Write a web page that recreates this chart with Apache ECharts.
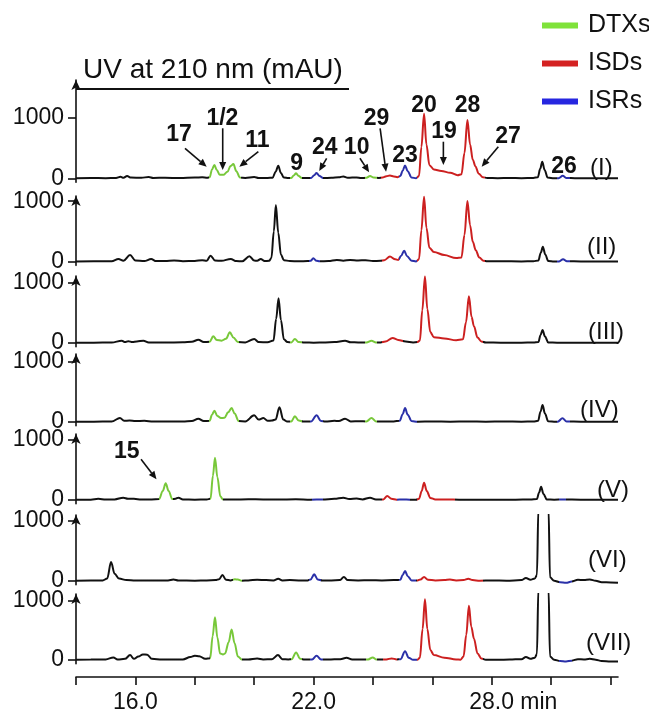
<!DOCTYPE html>
<html><head><meta charset="utf-8">
<script src="https://cdn.jsdelivr.net/npm/echarts@6/dist/echarts.min.js"></script>
<style>html,body{margin:0;padding:0;background:#fff}#c{width:649px;height:714px}</style>
</head><body><div id="c"></div>
<script>
// ---------------- data ----------------
const panelLabels = ['(I)','(II)','(III)','(IV)','(V)','(VI)','(VII)'];
const groupNames = ['DTXs','ISDs','ISRs'];
const yTickValues = [0, 1000];
const xTickValues = [14,16,18,20,22,24,26,28,30,32];
const xLabelValues = [16,22,28];
const timeMin = 14, timeMax = 32.25;

// retention time (min), UV absorbance (mAU)
const trace1 = [
[14.0,5],[14.5,8],[15.0,6],[15.35,10],[15.5,28],[15.6,12],[15.72,40],[15.85,15],[16.2,12],[16.45,25],[16.6,10],[17.0,12],[17.5,8],[18.0,15],[18.25,22],[18.42,12],
[18.5,20],[18.58,150],[18.66,225],[18.74,140],[18.84,60],[18.96,60],[19.1,110],[19.2,205],[19.3,238],[19.4,120],[19.52,15],
[19.7,10],[20.0,25],[20.15,8],[20.45,10],
[20.62,12],[20.72,110],[20.81,212],[20.9,90],[21.0,15],[21.15,8],
[21.25,10],[21.33,50],[21.41,85],[21.5,40],[21.6,8],[21.8,10],
[21.92,10],[22.02,55],[22.1,90],[22.2,40],[22.32,8],[22.6,12],[22.85,20],[23.0,35],[23.15,12],[23.45,18],[23.6,8],
[23.78,12],[23.9,42],[24.02,15],[24.2,10],
[24.32,15],[24.45,38],[24.57,48],[24.7,35],[24.82,22],
[24.92,40],[25.0,130],[25.08,215],[25.17,120],[25.3,15],[25.45,5],
[25.55,40],[25.63,520],[25.72,1070],[25.8,560],[25.9,220],[26.05,150],[26.3,125],[26.6,95],[26.85,55],
[26.98,70],[27.08,420],[27.18,965],[27.27,560],[27.36,310],[27.45,200],[27.56,80],[27.7,20],[27.85,8],
[28.2,5],[28.6,8],[29.0,6],[29.4,10],
[29.55,20],[29.63,160],[29.7,278],[29.78,140],[29.88,15],[30.1,5],
[30.25,5],[30.39,45],[30.52,8],[30.8,5],[31.5,5],[32.25,4]
];
const trace2 = [
[14.0,5],[14.6,8],[15.2,6],[15.43,45],[15.6,15],[15.82,110],[16.0,20],[16.3,10],[16.53,45],[16.7,10],[17.0,12],[17.3,20],[17.6,8],[18.0,12],[18.25,25],[18.4,15],[18.53,100],[18.68,20],[18.9,15],[19.21,45],[19.4,10],[19.6,8],[19.84,90],[20.0,20],[20.1,15],[20.22,45],[20.35,10],[20.5,15],
[20.58,60],[20.66,500],[20.73,937],[20.81,480],[20.9,120],[21.0,25],[21.2,10],[21.5,8],[21.8,10],
[21.9,15],[21.99,55],[22.1,15],[22.2,8],[22.5,10],[22.78,30],[23.0,15],[23.23,30],[23.5,20],[23.75,25],[24.0,10],[24.25,15],
[24.38,25],[24.57,85],[24.75,40],[24.85,30],
[24.95,100],[25.05,182],[25.15,90],[25.3,15],[25.45,5],
[25.55,40],[25.63,520],[25.72,1075],[25.8,560],[25.9,230],[26.05,160],[26.4,110],[26.8,60],
[26.98,70],[27.08,440],[27.18,1003],[27.27,600],[27.36,330],[27.46,190],[27.58,70],[27.72,15],[27.85,8],
[28.3,6],[29.0,5],[29.4,8],
[29.57,20],[29.65,150],[29.72,248],[29.8,120],[29.9,12],[30.1,5],
[30.27,5],[30.4,40],[30.53,6],[31.0,5],[32.25,4]
];
const trace3 = [
[14.0,5],[14.6,6],[15.2,8],[15.54,38],[15.65,15],[15.76,30],[15.9,15],[16.05,25],[16.27,38],[16.45,10],[17.0,8],[17.6,12],[17.9,20],[18.12,55],[18.3,15],
[18.5,20],[18.62,110],[18.74,50],[18.9,38],[19.05,70],[19.18,176],[19.3,90],[19.45,15],[19.7,10],[20.0,66],[20.15,15],[20.45,12],
[20.65,40],[20.74,400],[20.82,740],[20.9,380],[21.0,60],[21.12,15],
[21.25,10],[21.37,66],[21.5,15],[21.7,8],[22.0,5],[22.4,10],[22.7,15],[23.06,38],[23.25,12],[23.5,10],
[23.78,8],[23.95,38],[24.1,10],[24.25,10],
[24.42,25],[24.66,83],[24.85,50],[25.1,25],[25.35,10],[25.5,15],
[25.58,40],[25.66,540],[25.75,1100],[25.83,560],[25.93,180],[26.05,95],[26.4,75],[26.8,45],
[27.03,60],[27.13,340],[27.23,771],[27.32,430],[27.4,276],[27.52,90],[27.65,25],[27.8,8],
[28.3,5],[29.0,6],[29.4,8],
[29.57,15],[29.64,130],[29.71,215],[29.79,110],[29.9,10],[30.2,5],[31.0,5],[32.25,4]
];
const trace4 = [
[14.0,5],[14.6,6],[15.2,8],[15.48,66],[15.62,20],[15.8,25],[16.0,15],[16.3,20],[16.6,8],[17.2,10],[17.6,8],[17.9,15],[18.12,55],[18.3,15],
[18.5,20],[18.58,120],[18.66,187],[18.76,100],[18.88,66],[19.0,70],[19.12,160],[19.24,231],[19.34,140],[19.48,15],
[19.7,10],[20.0,110],[20.15,40],[20.31,66],[20.45,20],[20.6,25],
[20.72,40],[20.85,242],[20.98,40],[21.1,10],
[21.25,10],[21.37,94],[21.5,25],[21.65,8],
[21.92,10],[22.1,110],[22.25,15],[22.4,8],[22.7,20],[22.85,15],[23.06,55],[23.25,10],[23.55,12],
[23.78,10],[23.95,66],[24.1,10],[24.4,8],[24.7,10],
[24.9,20],[25.0,130],[25.08,231],[25.17,120],[25.3,15],[25.5,5],
[26.0,8],[26.6,5],[27.2,10],[27.8,5],[28.4,8],[29.0,5],[29.4,8],
[29.56,20],[29.64,170],[29.71,281],[29.79,140],[29.9,12],[30.15,5],
[30.22,5],[30.38,60],[30.52,8],[31.0,5],[32.25,4]
];
const trace5 = [
[14.0,5],[14.5,6],[14.75,20],[15.0,8],[15.3,10],[15.59,38],[15.75,20],[15.95,20],[16.2,8],[16.55,10],
[16.8,15],[16.92,150],[17.02,275],[17.12,150],[17.24,15],[17.35,20],[17.45,38],[17.6,8],[18.0,5],[18.4,8],
[18.53,20],[18.61,400],[18.68,700],[18.76,380],[18.86,60],[18.95,10],[19.3,8],[19.8,12],[20.3,10],[20.8,8],[21.4,12],[21.9,5],[22.3,8],[22.7,20],[23.0,38],[23.2,15],[23.45,25],[23.65,10],[23.9,38],[24.1,10],
[24.35,10],[24.48,66],[24.62,20],[24.8,5],
[25.0,8],[25.25,5],[25.45,5],
[25.55,20],[25.64,150],[25.72,287],[25.81,150],[25.93,35],[26.1,10],[26.5,8],[26.9,6],[27.5,5],[28.2,5],[28.8,6],[29.3,8],
[29.52,15],[29.59,120],[29.66,220],[29.74,100],[29.85,10],[30.1,5],[30.4,8],[31.0,5],[32.25,4]
];
const trace6 = [
[14.0,5],[14.5,8],[14.9,10],[15.05,40],[15.18,314],[15.3,120],[15.45,40],[15.7,15],[16.0,8],[16.6,8],[17.1,10],[17.28,25],[17.45,8],[18.0,5],[18.4,10],[18.7,15],
[18.82,30],[18.93,99],[19.05,20],[19.2,10],
[19.35,28],[19.45,25],[19.58,5],
[19.8,10],[20.1,20],[20.4,15],[20.65,10],[20.81,38],[20.95,10],[21.2,15],[21.5,10],[21.8,10],
[21.9,25],[22.02,110],[22.14,25],[22.3,8],[22.6,10],
[22.88,15],[23.02,66],[23.15,15],[23.5,10],[23.9,12],[24.3,10],[24.7,15],
[24.92,20],[25.0,100],[25.08,165],[25.17,80],[25.3,10],[25.5,10],
[25.6,25],[25.72,66],[25.85,20],[26.1,10],[26.4,15],[26.59,25],[26.8,10],[27.05,15],[27.21,38],[27.35,15],[27.6,5],[28.0,8],[28.5,5],[29.0,15],[29.15,50],[29.3,20],[29.45,40],
[29.52,100],[29.57,1200],[29.74,3200],[29.91,1200],[29.96,60],[30.1,5],
[30.3,-20],[30.5,-30],[30.69,-10],[30.9,20],[31.1,15],[31.3,25],[31.5,5],[31.7,-20],[32.0,-25],[32.25,-30]
];
const trace7 = [
[14.0,5],[14.5,8],[15.0,10],[15.26,44],[15.4,10],[15.65,20],[15.82,83],[15.95,20],[16.1,60],[16.25,94],[16.4,90],[16.55,20],[16.9,10],[17.3,8],[17.6,10],[17.85,50],[18.0,72],[18.15,65],[18.35,20],
[18.52,30],[18.6,400],[18.68,716],[18.76,380],[18.85,110],[18.95,94],[19.02,110],[19.14,300],[19.24,512],[19.34,280],[19.45,60],[19.58,10],
[19.8,8],[20.1,25],[20.3,10],[20.6,15],[20.8,83],[20.95,15],[21.15,10],
[21.26,15],[21.41,127],[21.55,20],[21.7,10],
[21.95,10],[22.1,72],[22.25,10],[22.5,8],[22.9,15],[23.11,39],[23.3,10],[23.6,8],
[23.84,10],[23.99,44],[24.12,8],[24.3,10],
[24.45,10],[24.63,28],[24.8,10],
[24.93,15],[25.08,149],[25.2,40],[25.35,5],[25.5,5],
[25.58,40],[25.67,520],[25.75,1020],[25.83,520],[25.93,170],[26.05,83],[26.4,40],[26.8,10],[26.95,5],
[27.05,60],[27.14,420],[27.23,909],[27.31,560],[27.4,358],[27.52,110],[27.65,25],[27.8,5],
[28.2,5],[28.6,8],[29.0,15],[29.15,50],[29.3,20],[29.45,40],
[29.52,100],[29.57,1200],[29.74,3200],[29.91,1200],[29.96,60],[30.1,5],
[30.3,-15],[30.5,-25],[30.69,-10],[30.9,15],[31.1,10],[31.3,20],[31.5,5],[31.7,-15],[32.0,-25],[32.25,-25]
];

// coloured stretches of each trace: [from min, to min, group]
const seg1 = [[18.48,19.55,'DTXs'],[21.22,21.62,'DTXs'],[21.88,22.33,'ISRs'],[23.73,24.12,'DTXs'],[24.28,24.86,'ISDs'],[24.86,25.47,'ISRs'],[25.47,27.78,'ISDs'],[30.18,30.63,'ISRs']];
const seg2 = [[21.85,22.2,'ISRs'],[24.3,24.86,'ISDs'],[24.86,25.47,'ISRs'],[25.47,27.77,'ISDs'],[30.2,30.63,'ISRs']];
const seg3 = [[18.48,19.48,'DTXs'],[21.22,21.62,'DTXs'],[23.73,24.12,'DTXs'],[24.3,25.0,'ISDs'],[25.47,27.72,'ISDs']];
const seg4 = [[18.48,19.5,'DTXs'],[21.22,21.62,'DTXs'],[21.88,22.33,'ISRs'],[23.73,24.12,'DTXs'],[24.86,25.47,'ISRs'],[30.2,30.63,'ISRs']];
const seg5 = [[16.78,17.26,'DTXs'],[18.5,18.95,'DTXs'],[21.93,22.33,'ISRs'],[24.3,24.82,'ISDs'],[24.82,25.25,'ISRs'],[25.47,26.76,'ISDs'],[30.28,30.5,'ISRs']];
const seg6 = [[19.28,19.6,'DTXs'],[21.85,22.25,'ISRs'],[24.86,25.45,'ISRs'],[25.47,27.71,'ISDs'],[30.26,30.69,'ISRs']];
const seg7 = [[18.5,19.6,'DTXs'],[21.24,21.62,'DTXs'],[21.88,22.33,'ISRs'],[23.76,24.14,'DTXs'],[24.35,24.82,'ISDs'],[24.86,25.47,'ISRs'],[25.47,27.71,'ISDs'],[30.26,30.69,'ISRs']];

// peak annotations (text, label position, arrow start, arrow end) in data units
const peakNotesI = [
 {text:'17', at:[17.47,719], from:[17.67,499], to:[18.40,195]},
 {text:'1/2', at:[18.93,983], from:[18.94,830], to:[18.94,140]},
 {text:'11', at:[20.11,620], from:[20.14,443], to:[19.50,195]},
 {text:'9', at:[21.43,240]},
 {text:'24', at:[22.38,512], from:[22.44,334], to:[22.19,124]},
 {text:'10', at:[23.45,512], from:[23.56,334], to:[23.87,102]},
 {text:'29', at:[24.12,983], from:[24.24,830], to:[24.44,112]},
 {text:'23', at:[25.08,372]},
 {text:'20', at:[25.72,1198]},
 {text:'19', at:[26.39,769], from:[26.37,608], to:[26.37,223]},
 {text:'28', at:[27.18,1198]},
 {text:'27', at:[28.55,686], from:[28.22,526], to:[27.66,195]},
 {text:'26', at:[30.43,190]}
];
const peakNotesV = [
 {text:'15', at:[15.71,793], from:[16.19,673], to:[16.71,342]}
];

// ---------------- layout & style ----------------
const FONT = "'Liberation Sans', Arial, Helvetica, sans-serif";
const INK = '#111';
const traceColors = {DTXs:'#78C83A', ISDs:'#CC2020', ISRs:'#2A30A8'};
const legendColors = {DTXs:'#7FE23A', ISDs:'#D42222', ISRs:'#2626E0'};
const zeroPx = [178.5, 261.7, 343, 422, 500, 581, 661];
const topPx  = [76, 192, 272, 350, 430, 511, 590];
const labelPos = [[590,168],[587,247],[588,332],[580,410],[597,490],[588,560],[586,643]];
const K = 0.0605;          // px per mAU
const YMIN = -60;
const xAxisPx = 678;
const plotLeft = 76, plotRight = 31;

const traces = [trace1,trace2,trace3,trace4,trace5,trace6,trace7];
const segs = [seg1,seg2,seg3,seg4,seg5,seg6,seg7];

const grids=[], xAxes=[], yAxes=[], series=[], visualMaps=[];
for (let i=0;i<7;i++){
  const top = topPx[i] + 4;
  const bottom = zeroPx[i] - YMIN*K;
  grids.push({left:plotLeft, right:plotRight, top:top, height:bottom-top});
  const ymax = (zeroPx[i]-top)/K;
  const last = (i===6);
  xAxes.push({
    type:'value', gridIndex:i, min:timeMin, max:timeMax, show:last, position:'bottom',
    offset: last ? (xAxisPx-bottom) : 0,
    axisLine:{show:true, onZero:false, lineStyle:{color:INK, width:1.6}},
    axisTick:{show:true, customValues:xTickValues, length:8, lineStyle:{color:INK, width:1.6}},
    axisLabel:{show:true, customValues:xLabelValues, margin:14, fontSize:23, fontFamily:FONT, color:INK,
      formatter: v => (v===28 ? '{m|28.0 min}' : v.toFixed(1)),
      rich:{m:{fontSize:23, fontFamily:FONT, color:INK, padding:[0,0,0,43]}}},
    splitLine:{show:false}
  });
  yAxes.push({
    type:'value', gridIndex:i, min:YMIN, max:ymax,
    axisLine:{show:true, onZero:false, symbol:['none','arrow'], symbolSize:[7,10], lineStyle:{color:INK, width:1.6}},
    axisTick:{show:true, customValues:yTickValues, length:8, lineStyle:{color:INK, width:1.6}},
    axisLabel:{show:true, customValues:yTickValues, margin:12, fontSize:23, fontFamily:FONT, color:INK,
      formatter: v => String(Math.round(v))},
    splitLine:{show:false}
  });
  series.push({
    type:'line', name:panelLabels[i], xAxisIndex:i, yAxisIndex:i, data:traces[i],
    showSymbol:false, symbol:'none', smooth:0.35, smoothMonotone:'x', clip:true, silent:true,
    lineStyle:{width:2}, color:INK
  });
  visualMaps.push({
    type:'piecewise', show:false, seriesIndex:i, dimension:0,
    pieces: segs[i].map(s => ({gte:s[0], lte:s[1], color:traceColors[s[2]]})),
    outOfRange:{color:INK}
  });
}
groupNames.forEach(n => series.push({type:'line', name:n, xAxisIndex:0, yAxisIndex:0, data:[], color:legendColors[n]}));

const chart = echarts.init(document.getElementById('c'));
chart.setOption({
  animation:false,
  backgroundColor:'#fff',
  grid:grids, xAxis:xAxes, yAxis:yAxes, series:series, visualMap:visualMaps,
  legend:{orient:'vertical', left:537, top:8, icon:'rect', itemWidth:36, itemHeight:6, itemGap:13,
    selectedMode:false,
    textStyle:{fontSize:25, fontFamily:FONT, color:INK, padding:[0,0,0,5]},
    data: groupNames.map(n => ({name:n, itemStyle:{color:legendColors[n]}}))}
});

// ---------------- annotations ----------------
const g = [];
g.push({type:'text', z:100, style:{text:'UV at 210 nm (mAU)', x:83, y:70, font:'28px '+FONT, fill:INK, textVerticalAlign:'middle', verticalAlign:'middle'}});
g.push({type:'line', z:100, shape:{x1:plotLeft, y1:89, x2:349, y2:89}, style:{stroke:INK, lineWidth:2}});
panelLabels.forEach((t,i) => g.push({type:'text', z:100, style:{text:t, x:labelPos[i][0], y:labelPos[i][1], font:'24px '+FONT, fill:INK, textVerticalAlign:'middle', verticalAlign:'middle'}}));

function arrow(gi, from, to){
  const a = chart.convertToPixel({gridIndex:gi}, from), b = chart.convertToPixel({gridIndex:gi}, to);
  const dx=b[0]-a[0], dy=b[1]-a[1], L=Math.hypot(dx,dy), ux=dx/L, uy=dy/L;
  const hl=8, hw=3.5, bx=b[0]-ux*hl, by=b[1]-uy*hl;
  g.push({type:'line', z:100, shape:{x1:a[0],y1:a[1],x2:bx,y2:by}, style:{stroke:INK, lineWidth:1.6}});
  g.push({type:'polygon', z:100, shape:{points:[[b[0],b[1]],[bx-uy*hw,by+ux*hw],[bx+uy*hw,by-ux*hw]]}, style:{fill:INK}});
}
function notes(gi, list){
  list.forEach(n => {
    const p = chart.convertToPixel({gridIndex:gi}, n.at);
    g.push({type:'text', z:100, style:{text:n.text, x:p[0], y:p[1], font:'bold 23px '+FONT, fill:INK,
      textAlign:'center', align:'center', textVerticalAlign:'middle', verticalAlign:'middle'}});
    if (n.from) arrow(gi, n.from, n.to);
  });
}
notes(0, peakNotesI);
notes(4, peakNotesV);
chart.setOption({graphic:g});
</script></body></html>
